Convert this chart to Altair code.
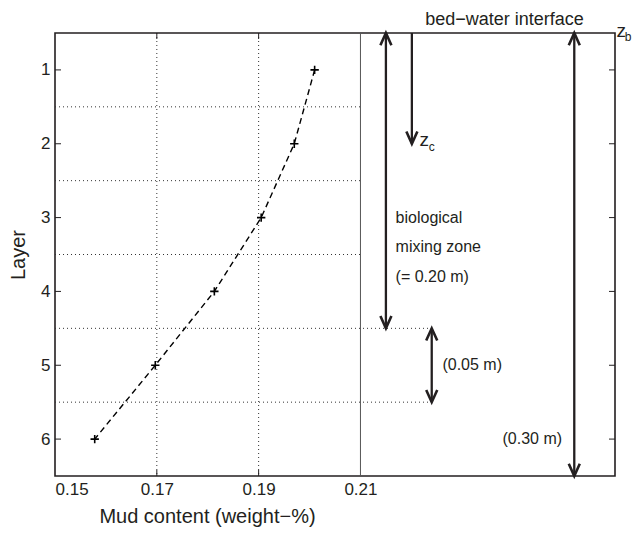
import altair as alt
import pandas as pd

# ---- data ----
layers = [1, 2, 3, 4, 5, 6]
mud = [0.2010, 0.1970, 0.1905, 0.1813, 0.1697, 0.1578]

x_tick_values = [0.15, 0.17, 0.19, 0.21]
x_grid = [0.17, 0.19]
zone_line = [0.21]

bounds = [1.5, 2.5, 3.5, 4.5, 5.5]
bound_ends = [0.21, 0.21, 0.21, 0.224, 0.224]

arrow_x = [0.2150, 0.2201, 0.2240, 0.2520]
arrow_top = [0.5, 0.5, 4.5, 0.5]
arrow_bot = [4.5, 2.0, 5.5, 6.5]
arrow_up_head = [True, False, True, True]

left_text = ["biological", "mixing zone", "(= 0.20 m)", "(0.05 m)"]
left_x = [0.2169, 0.2169, 0.2169, 0.2261]
left_y = [3.0, 3.4, 3.8, 5.0]

right_text = ["(0.30 m)"]
right_x = [0.2496]
right_y = [6.0]

top_text = ["bed\u2212water interface"]
top_x = [0.2383]
top_y = [0.33]

sym_text = ["z", "c", "z", "b"]
sym_x = [0.2216, 0.2234, 0.2603, 0.2619]
sym_y = [1.95, 2.05, 0.47, 0.55]
sym_size = [19, 12, 19, 12]

W, H = 560, 443
INK = "#231f20"
FONT = "Liberation Sans"

xs = alt.Scale(domain=[0.15, 0.26], nice=False, zero=False)
ys = alt.Scale(domain=[0.5, 6.5], reverse=True, nice=False, zero=False)

xaxis = alt.Axis(values=x_tick_values, format=".2f", ticks=False, domain=False, grid=False,
                 labelFontSize=17, labelPadding=5, labelColor=INK,
                 title="Mud content (weight\u2212%)", titleFontSize=20, titleFontWeight="normal",
                 titleColor=INK, titleX=152, titleY=46, titleBaseline="alphabetic")
yaxis = alt.Axis(values=layers, format="d", ticks=False, domain=False, grid=False,
                 labelFontSize=17, labelPadding=5, labelColor=INK,
                 title="Layer", titleFontSize=20, titleFontWeight="normal", titleColor=INK,
                 titleX=-31, titleBaseline="alphabetic")


def X(f):
    return alt.X(f, type="quantitative", scale=xs, axis=xaxis)


def Y(f):
    return alt.Y(f, type="quantitative", scale=ys, axis=yaxis)


profile = pd.DataFrame({"layer": layers, "mud": mud})
grid_df = pd.DataFrame({"x": x_grid, "y0": [0.5] * len(x_grid), "y1": [6.5] * len(x_grid)})
zone_df = pd.DataFrame({"x": zone_line, "y0": [0.5], "y1": [6.5]})
bound_df = pd.DataFrame({"y": bounds, "x0": [0.15] * len(bounds), "x1": bound_ends})
arrow_df = pd.DataFrame({"x": arrow_x, "top": arrow_top, "bot": arrow_bot, "up": arrow_up_head})
ytick_df = pd.DataFrame({"layer": layers})
xtick_df = pd.DataFrame({"x": x_grid})

grid = alt.Chart(grid_df).mark_rule(color="#333333", strokeWidth=1, strokeDash=[1, 3]).encode(
    x=X("x"), y=Y("y0"), y2="y1")
zone = alt.Chart(zone_df).mark_rule(color="#555555", strokeWidth=1).encode(
    x=X("x"), y=Y("y0"), y2="y1")
bound_rules = alt.Chart(bound_df).mark_rule(color="#333333", strokeWidth=1, strokeDash=[1, 3]).encode(
    y=Y("y"), x=X("x0"), x2="x1")

yt_left = alt.Chart(ytick_df).mark_rule(color=INK, strokeWidth=1).encode(
    y=Y("layer"), x=alt.value(0), x2=alt.value(6))
yt_right = alt.Chart(ytick_df).mark_rule(color=INK, strokeWidth=1).encode(
    y=Y("layer"), x=alt.value(W - 6), x2=alt.value(W))
xt_bot = alt.Chart(xtick_df).mark_rule(color=INK, strokeWidth=1).encode(
    x=X("x"), y=alt.value(H - 6), y2=alt.value(H))
xt_top = alt.Chart(xtick_df).mark_rule(color=INK, strokeWidth=1).encode(
    x=X("x"), y=alt.value(0), y2=alt.value(6))

line = alt.Chart(profile).mark_line(color="black", strokeWidth=1.4, strokeDash=[6, 4]).encode(
    x=X("mud"), y=Y("layer"), order="layer:Q")
marks = alt.Chart(profile).mark_point(shape="M-1,0L1,0M0,-1L0,1", size=70, filled=False,
                                      color="black", strokeWidth=1.6, opacity=1).encode(
    x=X("mud"), y=Y("layer"))

shafts = alt.Chart(arrow_df).mark_rule(color=INK, strokeWidth=2.3).encode(
    x=X("x"), y=Y("top"), y2="bot")
heads_up = alt.Chart(arrow_df).transform_filter("datum.up").mark_point(
    shape="M-0.45,1L0,0L0.45,1", size=600, filled=False, color=INK, strokeWidth=2.6,
    opacity=1, strokeJoin="miter").encode(x=X("x"), y=Y("top"))
heads_down = alt.Chart(arrow_df).mark_point(
    shape="M-0.45,-1L0,0L0.45,-1", size=600, filled=False, color=INK, strokeWidth=2.6,
    opacity=1, strokeJoin="miter").encode(x=X("x"), y=Y("bot"))

t_left = alt.Chart(pd.DataFrame({"t": left_text, "x": left_x, "y": left_y})).mark_text(
    align="left", baseline="middle", fontSize=16, color=INK, font=FONT).encode(
    x=X("x"), y=Y("y"), text="t")
t_right = alt.Chart(pd.DataFrame({"t": right_text, "x": right_x, "y": right_y})).mark_text(
    align="right", baseline="middle", fontSize=16, color=INK, font=FONT).encode(
    x=X("x"), y=Y("y"), text="t")
t_top = alt.Chart(pd.DataFrame({"t": top_text, "x": top_x, "y": top_y})).mark_text(
    align="center", baseline="middle", fontSize=18, color=INK, font=FONT).encode(
    x=X("x"), y=Y("y"), text="t")
t_sym = alt.Chart(pd.DataFrame({"t": sym_text, "x": sym_x, "y": sym_y, "s": sym_size})).mark_text(
    align="left", baseline="middle", color=INK, font=FONT).encode(
    x=X("x"), y=Y("y"), text="t", size=alt.Size("s:Q", scale=None, legend=None))

chart = alt.layer(
    grid, zone, bound_rules, yt_left, yt_right, xt_bot, xt_top,
    line, marks, shafts, heads_up, heads_down, t_left, t_right, t_top, t_sym
).properties(
    width=W, height=H,
    autosize=alt.AutoSizeParams(type="none"),
    padding={"left": 47, "top": 25, "right": 17, "bottom": 51},
).configure(
    font=FONT, background="white"
).configure_view(
    stroke=INK, strokeWidth=1.6
)

chart.save("out.html", embed_options={"renderer": "svg", "actions": False})
